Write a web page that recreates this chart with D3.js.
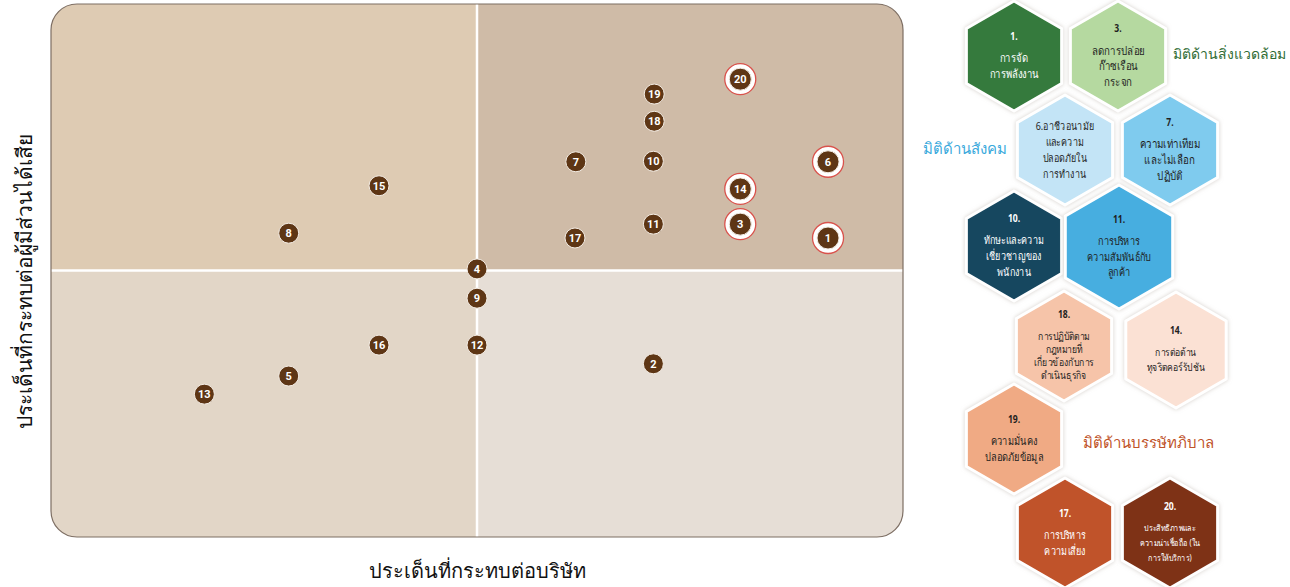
<!DOCTYPE html>
<html>
<head>
<meta charset="utf-8">
<script src="https://cdn.jsdelivr.net/npm/d3@7"></script>
<style>
  body { margin: 0; background: #fff; }
  svg { display: block; font-family: "Noto Sans", "Open Sans", sans-serif; }
</style>
</head>
<body>
<div id="chart"></div>
<script>
// materiality points
var issueIds = [1, 2, 3, 4, 5, 6, 7, 8, 9, 10, 11, 12, 13, 14, 15, 16, 17, 18, 19, 20];
var companyImpact = [9.12, 7.07, 8.09, 5.0, 2.79, 9.12, 6.16, 2.79, 5.0, 7.07, 7.07, 5.0, 1.8, 8.09, 3.85, 3.85, 6.15, 7.08, 7.08, 8.09];
var stakeholderImpact = [5.61, 3.25, 5.87, 5.03, 3.02, 7.04, 7.04, 5.7, 4.48, 7.05, 5.87, 3.6, 2.68, 6.53, 6.59, 3.6, 5.61, 7.8, 8.31, 8.59];
var highlighted = [1, 3, 6, 14, 20];

// legend (hexagons)
var legendNumbers = ["1.", "3.", "", "7.", "10.", "11.", "18.", "14.", "19.", "17.", "20."];
var legendLines = [
    ["การจัด", "การพลังงาน"],
    ["ลดการปล่อย", "ก๊าซเรือน", "กระจก"],
    ["6.อาชีวอนามัย", "และความ", "ปลอดภัยใน", "การทำงาน"],
    ["ความเท่าเทียม", "และไม่เลือก", "ปฏิบัติ"],
    ["ทักษะและความ", "เชี่ยวชาญของ", "พนักงาน"],
    ["การบริหาร", "ความสัมพันธ์กับ", "ลูกค้า"],
    ["การปฏิบัติตาม", "กฎหมายที่", "เกี่ยวข้องกับการ", "ดำเนินธุรกิจ"],
    ["การต่อต้าน", "ทุจริตคอร์รัปชัน"],
    ["ความมั่นคง", "ปลอดภัยข้อมูล"],
    ["การบริหาร", "ความเสี่ยง"],
    ["ประสิทธิภาพและ", "ความน่าเชื่อถือ (ใน", "การให้บริการ)"]
];
var groupNames = ["มิติด้านสิ่งแวดล้อม", "มิติด้านสังคม", "มิติด้านบรรษัทภิบาล"];
var xTitle = "ประเด็นที่กระทบต่อบริษัท";
var yTitle = "ประเด็นที่กระทบต่อผู้มีส่วนได้เสีย";

// hex layout + styles: [cx, cy, r, fill, textColor, fontSize, lineGap]
var hexStyle = [
    [1014, 56, 55, "#357a3c", "#fff", 11.6, 16],
    [1118, 56, 55, "#b5d9a0", "#1f1f1f", 11.8, 15.5],
    [1065, 150, 55, "#c3e4f6", "#1f1f1f", 10.9, 16],
    [1170, 150, 55, "#7fcbee", "#1f1f1f", 11.9, 16],
    [1014, 246, 55, "#17475f", "#fff", 11, 16],
    [1119, 247, 62, "#47aee0", "#1f1f1f", 11.2, 15.5],
    [1064, 346, 55, "#f6c4a9", "#1f1f1f", 10.5, 13],
    [1176, 350, 58, "#fbe1d4", "#1f1f1f", 10.5, 15],
    [1014, 439, 55, "#f0aa84", "#1f1f1f", 11.3, 16],
    [1065, 533, 55, "#c0522a", "#fff", 11, 16],
    [1170, 533, 55, "#7e3219", "#fff", 8.8, 15]
];
var hexTextSquash = 0.82;
var groupStyle = [
    [1173, 54, "#2e6b33", 14],
    [923, 149, "#3aa9dc", 15],
    [1083, 443, "#c0532a", 15]
];

var svgWidth = 1290;
var svgHeight = 587;

var box = { left: 51, top: 4, right: 903, bottom: 537 };

var svg = d3.select("#chart")
    .append("svg")
    .attr("width", svgWidth)
    .attr("height", svgHeight);

var defs = svg.append("defs");
defs.append("clipPath").attr("id", "boxClip")
    .append("rect")
    .attr("x", box.left).attr("y", box.top)
    .attr("width", box.right - box.left).attr("height", box.bottom - box.top)
    .attr("rx", 26);

var glow = defs.append("filter").attr("id", "glow")
    .attr("x", "-20%").attr("y", "-20%").attr("width", "140%").attr("height", "140%");
glow.append("feDropShadow").attr("dx", 0).attr("dy", 0).attr("stdDeviation", 2)
    .attr("flood-color", "#c9c2bb").attr("flood-opacity", 0.8);

// scales
var xScale = d3.scaleLinear().domain([0, 10]).range([box.left, box.right]);
var yScale = d3.scaleLinear().domain([0, 10]).range([box.bottom, box.top]);

// quadrants
var quadrants = [
    { x0: 0, x1: 5, y0: 5, y1: 10, fill: "#decbb3" },
    { x0: 5, x1: 10, y0: 5, y1: 10, fill: "#cfbba7" },
    { x0: 0, x1: 5, y0: 0, y1: 5, fill: "#e2d6c7" },
    { x0: 5, x1: 10, y0: 0, y1: 5, fill: "#e6ded6" }
];
var plot = svg.append("g").attr("clip-path", "url(#boxClip)");
plot.selectAll("rect.quad")
    .data(quadrants)
    .enter()
    .append("rect")
    .attr("class", "quad")
    .attr("x", d => xScale(d.x0))
    .attr("y", d => yScale(d.y1))
    .attr("width", d => xScale(d.x1) - xScale(d.x0))
    .attr("height", d => yScale(d.y0) - yScale(d.y1))
    .attr("fill", d => d.fill);

plot.append("line")
    .attr("x1", xScale(5)).attr("x2", xScale(5))
    .attr("y1", box.top).attr("y2", box.bottom)
    .attr("stroke", "#fff").attr("stroke-width", 2.5);
plot.append("line")
    .attr("x1", box.left).attr("x2", box.right)
    .attr("y1", yScale(5)).attr("y2", yScale(5))
    .attr("stroke", "#fff").attr("stroke-width", 2.5);

svg.append("rect")
    .attr("x", box.left).attr("y", box.top)
    .attr("width", box.right - box.left).attr("height", box.bottom - box.top)
    .attr("rx", 26)
    .attr("fill", "none")
    .attr("stroke", "#7d6e63")
    .attr("stroke-width", 1.2);

// points
var points = issueIds.map((id, i) => ({ id: id, x: companyImpact[i], y: stakeholderImpact[i] }));

var pointGroup = svg.selectAll("g.pt")
    .data(points)
    .enter()
    .append("g")
    .attr("class", "pt")
    .attr("transform", d => `translate(${xScale(d.x)}, ${yScale(d.y)})`);

pointGroup.filter(d => highlighted.includes(d.id))
    .append("circle")
    .attr("r", 15.5)
    .attr("fill", "#fff")
    .attr("stroke", "#d9524c")
    .attr("stroke-width", 1.3);

pointGroup.append("circle")
    .attr("r", d => highlighted.includes(d.id) ? 11 : 10)
    .attr("fill", "#5e3615")
    .attr("stroke", "#f3ece4")
    .attr("stroke-width", 1);

pointGroup.append("text")
    .attr("text-anchor", "middle")
    .attr("dy", "0.36em")
    .attr("fill", "#fff")
    .attr("font-family", "Roboto, sans-serif")
    .attr("font-weight", "bold")
    .attr("font-size", 11)
    .text(d => d.id);

// axis titles
svg.append("text")
    .attr("x", xScale(5))
    .attr("y", 578)
    .attr("text-anchor", "middle")
    .attr("font-size", 20)
    .attr("fill", "#111")
    .text(xTitle);

svg.append("text")
    .attr("transform", `translate(32, ${yScale(5) + 11}) rotate(-90)`)
    .attr("text-anchor", "middle")
    .attr("font-size", 21)
    .attr("fill", "#111")
    .text(yTitle);

// hexagon legend
function hexPath(r) {
    var pts = d3.range(6).map(k => {
        var a = Math.PI / 3 * k - Math.PI / 2;
        return [r * Math.cos(a), r * Math.sin(a)];
    });
    return d3.line()(pts) + "Z";
}

var legend = legendNumbers.map((num, i) => ({ num: num, lines: legendLines[i], s: hexStyle[i] }));

var hexes = svg.selectAll("g.hex")
    .data(legend)
    .enter()
    .append("g")
    .attr("class", "hex")
    .attr("transform", d => `translate(${d.s[0]}, ${d.s[1]})`);

hexes.append("path")
    .attr("d", d => hexPath(d.s[2]))
    .attr("fill", d => d.s[3])
    .attr("stroke", "#fff")
    .attr("stroke-width", 3)
    .attr("stroke-linejoin", "round")
    .attr("filter", "url(#glow)");

hexes.each(function (d) {
    // squash text horizontally so it looks like the condensed thai face
    var g = d3.select(this).append("g").attr("transform", `scale(${hexTextSquash}, 1)`);
    var gap = d.s[6];
    var mid = d.num ? 10 : 0;
    var first = mid - gap * (d.lines.length - 1) / 2;
    if (d.num) {
        g.append("text")
            .attr("y", first - 22)
            .attr("dy", "0.35em")
            .attr("text-anchor", "middle")
            .attr("font-weight", "bold")
            .attr("font-size", 10.5)
            .attr("fill", d.s[4])
            .text(d.num);
    }
    g.selectAll("text.line")
        .data(d.lines)
        .enter()
        .append("text")
        .attr("class", "line")
        .attr("y", (t, j) => first + j * gap)
        .attr("dy", "0.35em")
        .attr("text-anchor", "middle")
        .attr("font-size", d.s[5])
        .attr("fill", d.s[4])
        .text(t => t);
});

svg.selectAll("text.group")
    .data(groupNames)
    .enter()
    .append("text")
    .attr("class", "group")
    .attr("x", (d, i) => groupStyle[i][0])
    .attr("y", (d, i) => groupStyle[i][1])
    .attr("dy", "0.35em")
    .attr("font-size", (d, i) => groupStyle[i][3])
    .attr("fill", (d, i) => groupStyle[i][2])
    .text(d => d);
</script>
</body>
</html>
